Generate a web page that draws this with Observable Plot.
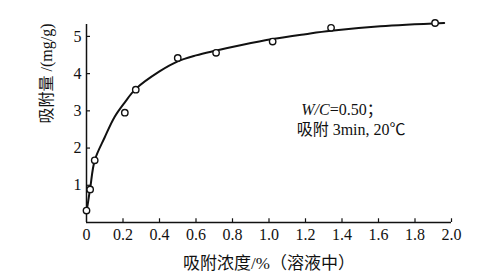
<!DOCTYPE html>
<html><head><meta charset="utf-8">
<script src="https://cdn.jsdelivr.net/npm/d3@7"></script>
<script src="https://cdn.jsdelivr.net/npm/@observablehq/plot@0.6"></script>
<style>body{margin:0;background:#fff} svg text{font-family:'Liberation Serif','Noto Sans CJK SC',serif !important}</style>
</head><body><div id="chart"></div>
<script>
const pointX = [0, 0.02, 0.045, 0.21, 0.27, 0.50, 0.71, 1.02, 1.34, 1.91];
const pointY = [0.32, 0.89, 1.67, 2.95, 3.57, 4.42, 4.56, 4.86, 5.23, 5.36];
const curveX = [0, 0.02, 0.045, 0.10, 0.153, 0.21, 0.27, 0.40, 0.50, 0.60, 0.70, 0.85, 1.02, 1.20, 1.34, 1.61, 1.96];
const curveY = [0.28, 0.91, 1.67, 2.29, 2.83, 3.23, 3.59, 4.06, 4.33, 4.49, 4.61, 4.77, 4.93, 5.06, 5.15, 5.27, 5.36];
const xTicks = [0, 0.2, 0.4, 0.6, 0.8, 1.0, 1.2, 1.4, 1.6, 1.8, 2.0];
const xTickLabels = ["0", "0.2", "0.4", "0.6", "0.8", "1.0", "1.2", "1.4", "1.6", "1.8", "2.0"];
const yTicks = [1, 2, 3, 4, 5];
const yTickLabels = ["1", "2", "3", "4", "5"];
const xLabel = "吸附浓度/%（溶液中）";
const yLabel = "吸附量 /(mg/g)";
const noteLines = ["W/C=0.50；", "吸附 3min, 20℃"];
const noteX = [1.40, 1.45];
const noteY = [2.88, 2.34];
const xMax = 2.0, yMax = 5.32;

const FONT = "'Liberation Serif', 'Noto Sans CJK SC', serif";
const points = pointX.map((x, i) => ({x, y: pointY[i]}));
const curve = curveX.map((x, i) => ({x, y: curveY[i]}));
const notes = noteLines.map((t, i) => ({t, x: noteX[i], y: noteY[i]}));

const chart = Plot.plot({
  width: 500, height: 277,
  marginLeft: 86, marginRight: 49, marginTop: 24, marginBottom: 55,
  style: {fontFamily: FONT, background: "#fff", color: "#111"},
  x: {domain: [0, xMax]},
  y: {domain: [0, yMax]},
  marks: [
    Plot.ruleX([0], {y1: 0, y2: yMax, stroke: "#111", strokeWidth: 1.5}),
    Plot.ruleY([0], {x1: 0, x2: xMax, stroke: "#111", strokeWidth: 1.5}),
    Plot.ruleX(xTicks.slice(1), {x: d => d, y1: 0, y2: 0.1, stroke: "#111", strokeWidth: 1.2}),
    Plot.ruleY(yTicks, {y: d => d, x1: 0, x2: 0.022, stroke: "#111", strokeWidth: 1.2}),
    Plot.axisX({ticks: xTicks, tickFormat: (d, i) => xTickLabels[i], tickSize: 0, tickPadding: 6, fontSize: 16, fontFamily: FONT, fill: "#111", label: null, style: {letterSpacing: "1.5px"}}),
    Plot.axisY({ticks: yTicks, tickFormat: (d, i) => yTickLabels[i], tickSize: 0, tickPadding: 5, fontSize: 16, fontFamily: FONT, fill: "#111", label: null}),
    Plot.line(curve, {x: "x", y: "y", curve: "catmull-rom", stroke: "#111", strokeWidth: 2}),
    Plot.dot(points, {x: "x", y: "y", r: 3.2, stroke: "#111", strokeWidth: 1.4, fill: "#fff"}),
    Plot.text(notes, {x: "x", y: "y", text: "t", fontSize: 16, fontFamily: FONT, lineAnchor: "bottom", fill: "#111"}),
    Plot.text([xLabel], {frameAnchor: "bottom", dy: 46, lineAnchor: "bottom", fontSize: 17, fontFamily: FONT, fill: "#111"}),
    Plot.text([yLabel], {frameAnchor: "left", dx: -40, rotate: -90, lineAnchor: "middle", fontSize: 16, fontFamily: FONT, fill: "#111"})
  ]
});
document.getElementById("chart").appendChild(chart);

// italicize "W/C" in the first note line
d3.select(chart).selectAll("text").each(function() {
  if (this.textContent === noteLines[0]) {
    const el = d3.select(this);
    el.text(null);
    el.append("tspan").attr("font-style", "italic").text(noteLines[0].slice(0, 3));
    el.append("tspan").text(noteLines[0].slice(3));
  }
});
</script>
</body></html>
